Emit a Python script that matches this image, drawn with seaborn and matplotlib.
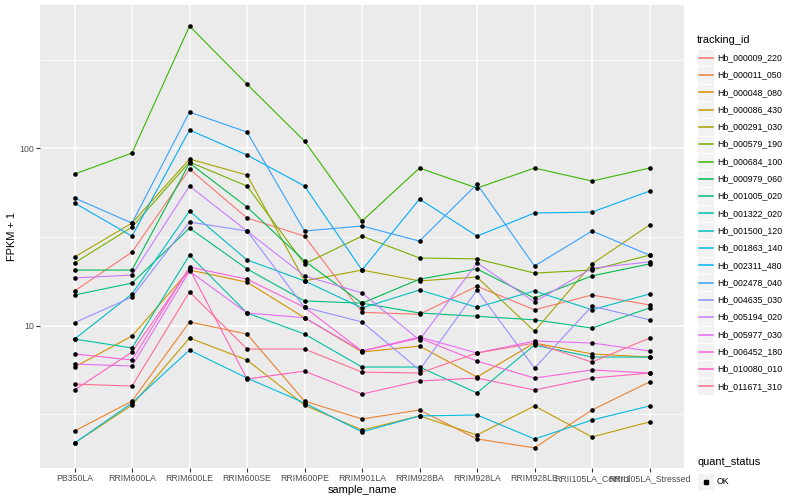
import matplotlib
matplotlib.use('Agg')
import pandas as pd
import seaborn as sns
import matplotlib.pyplot as plt
from matplotlib.lines import Line2D
from matplotlib.patches import Rectangle
from matplotlib.ticker import FixedLocator, NullFormatter

sample_names = ['PB350LA', 'RRIM600LA', 'RRIM600LE', 'RRIM600SE', 'RRIM600PE', 'RRIM901LA',
                'RRIM928BA', 'RRIM928LA', 'RRIM928LE', 'RRII105LA_Control', 'RRII105LA_Stressed']

tracking_ids = ['Hb_000009_220', 'Hb_000011_050', 'Hb_000048_080', 'Hb_000086_430', 'Hb_000291_030',
                'Hb_000579_190', 'Hb_000684_100', 'Hb_000979_060', 'Hb_001005_020', 'Hb_001322_020',
                'Hb_001500_120', 'Hb_001863_140', 'Hb_002311_480', 'Hb_002478_040', 'Hb_004635_030',
                'Hb_005194_020', 'Hb_005977_030', 'Hb_006452_180', 'Hb_010080_010', 'Hb_011671_310']

# FPKM + 1 per gene, in sample order
Hb_000009_220 = [15.7, 26.0, 76.4, 40.5, 32.0, 11.9, 11.6, 16.7, 12.3, 14.9, 13.1]
Hb_000011_050 = [2.55, 3.76, 10.5, 8.98, 3.76, 2.98, 3.35, 2.30, 2.05, 3.35, 4.82]
Hb_000048_080 = [5.85, 8.75, 20.6, 17.6, 11.1, 7.11, 7.68, 5.14, 7.99, 6.93, 6.66]
Hb_000086_430 = [2.18, 3.57, 8.52, 6.41, 3.57, 2.58, 3.10, 2.42, 3.53, 2.36, 2.87]
Hb_000291_030 = [24.4, 37.9, 87.0, 70.7, 17.9, 20.6, 17.9, 18.8, 9.3, 22.3, 37.0]
Hb_000579_190 = [22.6, 36.0, 83.7, 61.3, 22.3, 32.0, 24.1, 23.8, 19.8, 20.6, 25.0]
Hb_000684_100 = [71.6, 94.1, 489.0, 230.0, 109.9, 38.9, 77.4, 59.7, 77.4, 65.4, 77.4]
Hb_000979_060 = [20.6, 20.6, 82.6, 46.7, 23.2, 13.4, 18.3, 20.9, 14.3, 19.1, 22.3]
Hb_001005_020 = [14.9, 17.4, 35.5, 20.9, 13.8, 13.4, 11.8, 11.3, 10.8, 9.7, 12.6]
Hb_001322_020 = [8.41, 7.49, 25.0, 11.8, 8.98, 5.85, 5.85, 4.18, 7.78, 6.66, 6.66]
Hb_001500_120 = [8.41, 15.1, 44.3, 23.5, 17.9, 12.6, 15.9, 12.7, 15.7, 12.3, 15.1]
Hb_001863_140 = [2.18, 3.67, 7.29, 5.07, 3.67, 2.52, 3.10, 3.14, 2.30, 2.94, 3.53]
Hb_002311_480 = [49.2, 32.0, 126.8, 91.7, 61.3, 20.6, 51.8, 32.0, 43.2, 43.7, 57.4]
Hb_002478_040 = [52.5, 37.9, 160.0, 123.6, 34.2, 36.5, 30.0, 62.9, 21.7, 34.2, 25.0]
Hb_004635_030 = [10.4, 14.5, 38.4, 34.2, 12.7, 10.5, 5.63, 15.9, 5.77, 12.9, 10.8]
Hb_005194_020 = [18.6, 19.3, 61.3, 34.2, 19.1, 15.3, 8.31, 22.6, 13.6, 21.1, 22.9]
Hb_005977_030 = [6.08, 5.93, 20.3, 11.8, 11.1, 7.20, 8.64, 7.02, 8.20, 7.99, 7.20]
Hb_006452_180 = [6.93, 6.41, 21.4, 18.3, 12.7, 7.20, 8.52, 6.32, 5.07, 5.63, 5.41]
Hb_010080_010 = [4.34, 7.11, 20.9, 5.01, 5.55, 4.12, 4.88, 5.07, 4.34, 5.07, 5.41]
Hb_011671_310 = [4.69, 4.57, 15.5, 7.39, 7.39, 5.48, 5.41, 7.02, 7.99, 6.24, 8.52]

gene_values = [Hb_000009_220, Hb_000011_050, Hb_000048_080, Hb_000086_430, Hb_000291_030,
               Hb_000579_190, Hb_000684_100, Hb_000979_060, Hb_001005_020, Hb_001322_020,
               Hb_001500_120, Hb_001863_140, Hb_002311_480, Hb_002478_040, Hb_004635_030,
               Hb_005194_020, Hb_005977_030, Hb_006452_180, Hb_010080_010, Hb_011671_310]

# ggplot hue palette for 20 levels
hue_colors = ['#F8766D', '#EA8331', '#D89000', '#C09B00', '#A3A500', '#7CAE00', '#39B600', '#00BB4E',
              '#00BF7D', '#00C1A3', '#00BFC4', '#00BAE0', '#00B0F6', '#35A2FF', '#9590FF', '#C77CFF',
              '#E76BF3', '#FA62DB', '#FF62BC', '#FF6C91']
palette = dict(zip(tracking_ids, hue_colors))

records = list()
for tid, vals in zip(tracking_ids, gene_values):
    for i, v in enumerate(vals):
        records.append({'tracking_id': tid, 'x': i, 'sample_name': sample_names[i],
                        'fpkm_plus_1': v, 'quant_status': 'OK'})
df = pd.DataFrame.from_records(records)

plt.rcParams['font.family'] = ['Liberation Sans', 'DejaVu Sans']

W, H = 800, 500
fig = plt.figure(figsize=(8, 5), dpi=100)
ax = fig.add_axes([40 / W, 1 - 468 / H, (684 - 40) / W, (468 - 5) / H])
ax.set_facecolor('#EBEBEB')
ax.set_yscale('log')

sns.lineplot(data=df, x='x', y='fpkm_plus_1', hue='tracking_id', hue_order=tracking_ids,
             palette=palette, estimator=None, linewidth=0.8, legend=False, ax=ax)
sns.scatterplot(data=df, x='x', y='fpkm_plus_1', color='black', s=11, linewidth=0,
                legend=False, ax=ax, zorder=3)

ax.set_xlim(-0.6, 10.6)
ax.set_ylim(10 ** 0.198, 10 ** 2.808)
ax.set_xticks(range(len(sample_names)))
ax.set_xticklabels(sample_names)
ax.yaxis.set_major_locator(FixedLocator([10, 100]))
ax.yaxis.set_minor_locator(FixedLocator([10 ** 0.5, 10 ** 1.5, 10 ** 2.5]))
ax.yaxis.set_minor_formatter(NullFormatter())
ax.set_yticklabels(['10', '100'])

ax.grid(which='major', color='white', linewidth=1.1)
ax.grid(which='minor', axis='y', color='white', linewidth=0.55)
ax.set_axisbelow(True)
for s in ax.spines.values():
    s.set_visible(False)
ax.tick_params(which='major', length=2.7, width=0.8, color='#333333', labelcolor='#4D4D4D',
               labelsize=6.3, pad=1.5)
ax.tick_params(which='minor', length=0)

ax.set_xlabel('sample_name', fontsize=7.9, labelpad=1.5)
ax.set_ylabel('FPKM + 1', fontsize=7.9, labelpad=1.5)


def fp(x, y):
    return x / W, 1 - y / H


# tracking_id legend
fig.text(*fp(697, 40), 'tracking_id', fontsize=7.9, va='center', ha='left')
key = 17.3
for i, tid in enumerate(tracking_ids):
    yc = 57.7 + i * key
    fig.patches.append(Rectangle(fp(697, yc + key / 2), key / W, key / H, transform=fig.transFigure,
                                 facecolor='#F2F2F2', edgecolor='white', linewidth=0.6))
    x0, y0 = fp(698.5, yc)
    x1, _ = fp(712.5, yc)
    fig.lines.append(Line2D([x0, x1], [y0, y0], transform=fig.transFigure,
                            color=palette[tid], linewidth=1.1))
    fig.text(*fp(717, yc), tid, fontsize=6.3, va='center', ha='left')

# quant_status legend
fig.text(*fp(697, 462), 'quant_status', fontsize=7.9, va='center', ha='left')
yc = 481.5
fig.patches.append(Rectangle(fp(697, yc + key / 2), key / W, key / H, transform=fig.transFigure,
                             facecolor='#F2F2F2', edgecolor='white', linewidth=0.6))
fig.lines.append(Line2D([fp(705.5, yc)[0]], [fp(705.5, yc)[1]], transform=fig.transFigure,
                        marker='s', markersize=2.8, color='black', linestyle='none'))
fig.text(*fp(717, yc), 'OK', fontsize=6.3, va='center', ha='left')

fig.savefig('out.png', dpi=100)
